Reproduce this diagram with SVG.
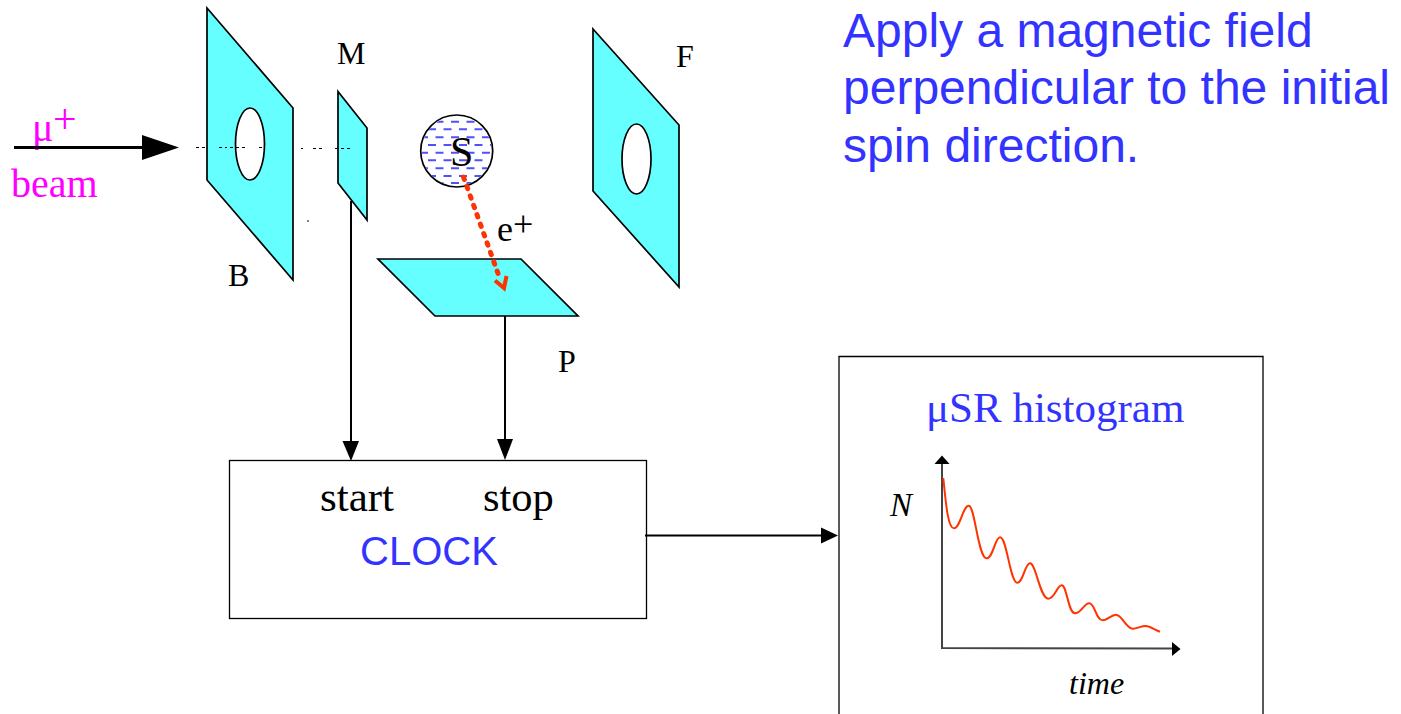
<svg xmlns="http://www.w3.org/2000/svg" width="1401" height="714" viewBox="0 0 1401 714">
<style>
.pl{fill:#66ffff;stroke:#000;stroke-width:1.7;stroke-linejoin:miter}
.hole{fill:#fff;stroke:#000;stroke-width:1.7}
.ln{fill:none;stroke:#000;stroke-width:2}
.dots{fill:none;stroke:#000;stroke-width:1;stroke-dasharray:3 3}
.t{font-family:"Liberation Serif","Times New Roman",serif;fill:#000}
.s{font-family:"Liberation Sans",Arial,sans-serif;fill:#3333ff}
.box{fill:#fff;stroke:#000;stroke-width:1.300}
.hatch{fill:none;stroke:#5050ff;stroke-width:2;stroke-dasharray:8 7.500}
.mg{fill:#ff00ff;font-family:"Liberation Serif",serif}
</style>
<defs>
<clipPath id="sc"><circle cx="456.700" cy="151" r="35"/></clipPath>
</defs>
<rect width="1401" height="714" fill="#fff"/>
<g id="plate-B">
<path class="pl" d="M207 8L293 108V280L207 180Z"/>
<ellipse class="hole" cx="250" cy="144" rx="14.500" ry="36"/>
<text class="t" x="228" y="286" font-size="32">B</text>
</g>
<g id="plate-M">
<path class="pl" d="M338 91.500L367 128V220L338 183Z"/>
<text class="t" x="337" y="64" font-size="32">M</text>
</g>
<g id="plate-F">
<path class="pl" d="M593 29L679 125V287L593 191Z"/>
<ellipse class="hole" cx="636.500" cy="159" rx="14.500" ry="35"/>
<text class="t" x="676" y="67" font-size="32">F</text>
</g>
<g id="plate-P">
<path class="pl" d="M378 259H521L578 316H435Z"/>
<text class="t" x="558" y="372" font-size="32">P</text>
</g>
<g id="sample-S">
<circle cx="456.700" cy="151" r="36" fill="#fff" stroke="#000" stroke-width="1.700"/>
<g clip-path="url(#sc)">
<path class="hatch" d="M420 121.700H495"/>
<path class="hatch" d="M428 129.300H495"/>
<path class="hatch" d="M420 137.300H495"/>
<path class="hatch" d="M428 145H495"/>
<path class="hatch" d="M420 152.700H495"/>
<path class="hatch" d="M428 160.300H495"/>
<path class="hatch" d="M420 168.300H495"/>
<path class="hatch" d="M428 176H495"/>
<path class="hatch" d="M420 183H495"/>
</g>
<text class="t" x="450" y="166" font-size="42">S</text>
</g>
<g id="beam-label">
<text class="mg" x="32" y="141" font-size="40">μ</text>
<text class="mg" x="53" y="133" font-size="42">+</text>
<text class="mg" x="11" y="197" font-size="40">beam</text>
</g>
<g id="positron-label">
<text class="t" x="497" y="241" font-size="36">e</text>
<text class="t" x="513" y="236" font-size="36">+</text>
</g>
<g id="clock">
<rect class="box" x="229.500" y="460.500" width="417" height="158"/>
<text class="t" x="320" y="511" font-size="43">start</text>
<text class="t" x="483" y="511" font-size="42.500">stop</text>
<text class="s" x="360" y="565" font-size="40">CLOCK</text>
</g>
<g id="histogram">
<path class="box" d="M839 714V356.500H1263V714"/>
<text x="926" y="422" font-size="43" fill="#3333ff" font-family="'Liberation Serif',serif">μSR histogram</text>
<text class="t" x="890" y="516" font-size="33" font-style="italic">N</text>
<text class="t" x="1069" y="694" font-size="32" font-style="italic">time</text>
<path fill="none" stroke="#444" stroke-width="2" d="M942 464V648L1172 648.500"/>
<path d="M934.500 464L942 455.500L949.500 464Z"/>
<path d="M1172 642L1180.500 649L1172 656Z"/>
<path fill="none" stroke="#ff3300" stroke-width="2" d="M943.300 478C946 505 948 528.300 954 528.300C960 528.300 963 505.700 968.700 505.700C975 505.700 978 558.300 986.700 558.300C993 558.300 995 537.300 1000 537.300C1007 537.300 1010 582.700 1017.300 582.700C1023 582.700 1025 563.300 1030 563.300C1036 563.300 1040 598.700 1048.300 598.700C1055 598.700 1057 585.300 1061.700 585.300C1067 585.300 1068 613.300 1075 613.300C1081 613.300 1084 603.300 1089.300 603.300C1095 603.300 1096 620.300 1102.700 620.300C1108 620.300 1111 614.700 1116 614.700C1122 614.700 1126 628.700 1132.700 628.700C1137 628.700 1141 626 1145.700 626C1150 626 1155 630 1160 631.700"/>
</g>
<g id="connectors">
<path fill="none" stroke="#000" stroke-width="3.200" d="M14 147.500H145"/>
<path d="M142 135L179 147.500L142 160Z"/>
<path class="dots" d="M196 147.500H205M219 147.500H227M230 147.500H245M259 147.500H263"/>
<path class="dots" d="M301 148.500H303M313 148.500H322M335 148.500H350"/>
<path class="dots" d="M307 221H309"/>
<path class="ln" d="M351 201V444"/>
<path d="M342.500 441H359L351 461Z"/>
<path class="ln" d="M505 316V441"/>
<path d="M497 439H513L505 460Z"/>
<path class="ln" d="M645 535.500H824"/>
<path d="M821 527.500L838 535.500L821 543.500Z"/>
<path fill="none" stroke="#ff3300" stroke-width="5" stroke-linecap="round" stroke-dasharray="2.500 7.500" d="M463.500 177L500 279"/>
<path fill="none" stroke="#ff3300" stroke-width="4" d="M495 280.500L504 288L506.500 276"/>
</g>
<g id="caption">
<text class="s" x="843" y="47" font-size="48">Apply a magnetic field</text>
<text class="s" x="843" y="104" font-size="48">perpendicular to the initial</text>
<text class="s" x="843" y="162" font-size="48">spin direction.</text>
</g>
</svg>
